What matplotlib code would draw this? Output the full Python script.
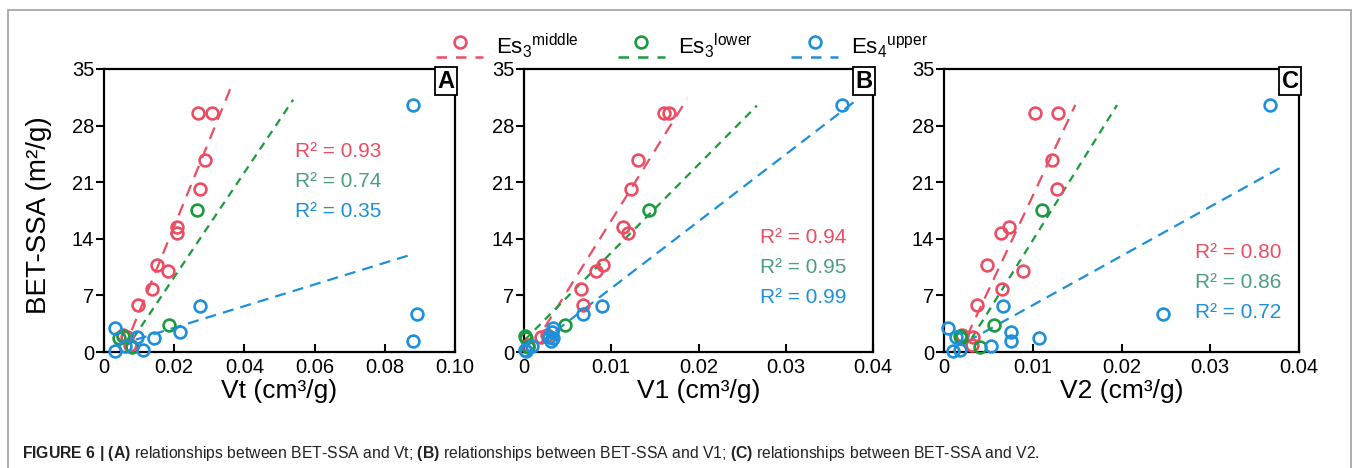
import numpy as np
import matplotlib
matplotlib.use("Agg")
import matplotlib.pyplot as plt
from matplotlib.lines import Line2D
from matplotlib.legend_handler import HandlerBase
from matplotlib.patches import Rectangle

plt.rcParams['font.family'] = ['Liberation Sans', 'DejaVu Sans']
plt.rcParams['mathtext.fontset'] = 'custom'
plt.rcParams['mathtext.rm'] = 'Liberation Sans'
plt.rcParams['mathtext.it'] = 'Liberation Sans:italic'
plt.rcParams['mathtext.bf'] = 'Liberation Sans:bold'
plt.rcParams['mathtext.sf'] = 'Liberation Sans'

# ---------------- data ----------------
groups = [r"Es$_{3}{}^{\mathrm{middle}}$", r"Es$_{3}{}^{\mathrm{lower}}$", r"Es$_{4}{}^{\mathrm{upper}}$"]

bet_red = [29.5, 29.5, 23.8, 20.1, 15.4, 14.7, 10.7, 10.05, 7.75, 5.8, 2.1, 1.9, 0.9]
vt_red = [0.0269, 0.0307, 0.0288, 0.0274, 0.0207, 0.0207, 0.0152, 0.0183, 0.0136, 0.0098, 0.0055, 0.0065, 0.0074]
v1_red = [0.01608, 0.01665, 0.01303, 0.01228, 0.01133, 0.0119, 0.0090, 0.0083, 0.00658, 0.00676, 0.0026, 0.0020, 0.0005]
v2_red = [0.01026, 0.01289, 0.01221, 0.0127, 0.00733, 0.00643, 0.00481, 0.00894, 0.0065, 0.00369, 0.0020, 0.0033, 0.0031]

bet_green = [17.6, 3.3, 2.0, 1.7, 0.6]
vt_green = [0.0266, 0.0186, 0.0055, 0.0042, 0.0079]
v1_green = [0.01437, 0.00475, 0.0001, 0.0002, 0.0005]
v2_green = [0.01108, 0.00567, 0.00177, 0.00188, 0.00402]

bet_blue = [30.5, 5.7, 4.7, 3.0, 2.5, 1.8, 1.7, 1.3, 0.8, 0.3, 0.1]
vt_blue = [0.0881, 0.0274, 0.0891, 0.0031, 0.0217, 0.0093, 0.0142, 0.0881, 0.0060, 0.0112, 0.0031]
v1_blue = [0.0364, 0.00893, 0.00676, 0.0033, 0.0032, 0.0029, 0.0033, 0.0031, 0.0009, 0.0001, 0.0002]
v2_blue = [0.03675, 0.00669, 0.02472, 0.0005, 0.0076, 0.0014, 0.01071, 0.0076, 0.0053, 0.0018, 0.0010]

# trend lines: (slope, intercept, x_start, x_end) for red, green, blue
fit_A = [(1063, -5.7, 0.0079, 0.0364), (647.6, -3.7, 0.0083, 0.0539), (133.9, 0.32, 0.0041, 0.0872)]
fit_B = [(1732, -1.06, 0.0024, 0.0187), (1089, 1.4, 0.0001, 0.0267), (828, -0.4, 0.0003, 0.0379)]
fit_C = [(2342, -4.1, 0.0026, 0.0148), (1761, -3.8, 0.0031, 0.0195), (609, -0.3, 0.0026, 0.0379)]

r2_A = ["0.93", "0.74", "0.35"]
r2_B = ["0.94", "0.95", "0.99"]
r2_C = ["0.80", "0.86", "0.72"]

panel_letters = ["A", "B", "C"]
xlabels = ["Vt (cm³/g)", "V1 (cm³/g)", "V2 (cm³/g)"]
xticks_A = [0, 0.02, 0.04, 0.06, 0.08, 0.10]
xticklabels_A = ["0", "0.02", "0.04", "0.06", "0.08", "0.10"]
xticks_BC = [0, 0.01, 0.02, 0.03, 0.04]
xticklabels_BC = ["0", "0.01", "0.02", "0.03", "0.04"]
yticks = [0, 7, 14, 21, 28, 35]

caption = (r"$\mathbf{FIGURE\ 6\ |\ (A)}$ relationships between BET-SSA and Vt; "
           r"$\mathbf{(B)}$ relationships between BET-SSA and V1; "
           r"$\mathbf{(C)}$ relationships between BET-SSA and V2.")

# ---------------- style ----------------
colors = ["#EB4D63", "#1C9A3E", "#1E8FDB"]
text_colors = ["#EB4D63", "#4B9E80", "#1E8FDB"]
dash_styles = [(0, (5.5, 3.8)), (0, (3.6, 2.8)), (0, (5.0, 3.2))]

W, H = 1354, 468
fig = plt.figure(figsize=(W / 100, H / 100), dpi=100)

# outer frame
fig.add_artist(Rectangle((8 / W, -0.05), (1351 - 8) / W, 1.05 - 10 / H,
                         transform=fig.transFigure, fill=False,
                         edgecolor="#a0a0a0", lw=1.2))

boxes = [(104, 455), (524, 873), (944, 1299)]
top_px, bot_px = 69, 352

panels = [
    (vt_red, vt_green, vt_blue, fit_A, r2_A, (0.10), xticks_A, xticklabels_A, (0.544, 0.707)),
    (v1_red, v1_green, v1_blue, fit_B, r2_B, (0.04), xticks_BC, xticklabels_BC, (0.676, 0.406)),
    (v2_red, v2_green, v2_blue, fit_C, r2_C, (0.04), xticks_BC, xticklabels_BC, (0.707, 0.353)),
]
bets = [bet_red, bet_green, bet_blue]

for i, (box, pan) in enumerate(zip(boxes, panels)):
    xr, xg, xb, fits, r2s, xmax, xt, xtl, r2pos = pan
    l, r = box
    ax = fig.add_axes([l / W, 1 - bot_px / H, (r - l) / W, (bot_px - top_px) / H])
    xs = [xr, xg, xb]
    for k in range(3):
        s, b, x0, x1 = fits[k]
        xx = np.array([x0, x1])
        ax.plot(xx, s * xx + b, color=colors[k], lw=1.6, linestyle=dash_styles[k], zorder=2)
    for k in range(3):
        ax.plot(xs[k], bets[k], linestyle="none", marker="o", markersize=8.5,
                markerfacecolor="none", markeredgecolor=colors[k], markeredgewidth=1.9, zorder=3,
                clip_on=False)
    for k in range(3):
        ax.text(r2pos[0], r2pos[1] - k * 0.106, "R² = " + r2s[k], transform=ax.transAxes,
                color=text_colors[k], fontsize=15, va="center", ha="left")
    ax.set_xlim(0, xmax)
    ax.set_ylim(0, 35)
    ax.set_xticks(xt)
    ax.set_xticklabels(xtl)
    ax.set_yticks(yticks)
    ax.tick_params(axis="x", direction="in", length=6, width=1.5, labelsize=14.5, pad=4)
    ax.tick_params(axis="y", direction="out", length=6, width=1.5, labelsize=14.5, pad=1)
    for sp in ax.spines.values():
        sp.set_linewidth(1.6)
    ax.set_xlabel(xlabels[i], fontsize=19, labelpad=2)
    if i == 0:
        ax.set_ylabel("BET-SSA (m²/g)", fontsize=20)
        ax.yaxis.set_label_coords(-0.148, 0.485)
    ax.text(0.999, 0.998, panel_letters[i], transform=ax.transAxes, ha="right", va="top",
            fontsize=17, fontweight="bold",
            bbox=dict(boxstyle="square,pad=0.12", facecolor="white", edgecolor="black", lw=1.3))


class MarkerAboveLine(HandlerBase):
    def create_artists(self, legend, orig_handle, xdescent, ydescent, width, height, fontsize, trans):
        c = orig_handle.get_color()
        y_line = -ydescent - 0.2 * height
        line = Line2D([-xdescent, -xdescent + width], [y_line, y_line], color=c, lw=1.8,
                      linestyle=(0, (4.2, 3.6)), transform=trans)
        mk = Line2D([-xdescent + width / 2], [-ydescent + 0.75 * height], marker="o", markersize=8.5,
                    markerfacecolor="none", markeredgecolor=c, markeredgewidth=1.9, linestyle="none",
                    transform=trans)
        return [line, mk]


handles = [Line2D([], [], color=c) for c in colors]
fig.legend(handles, groups, loc="upper center", bbox_to_anchor=(0.504, 0.975), ncol=3,
           frameon=False, fontsize=16, handlelength=2.1, handletextpad=0.6, columnspacing=1.75,
           handler_map={Line2D: MarkerAboveLine()})

fig.text(22 / W, 1 - 458 / H, caption, fontsize=11.3, ha="left", va="baseline", color="#222222")

fig.savefig("out.png", dpi=100)
